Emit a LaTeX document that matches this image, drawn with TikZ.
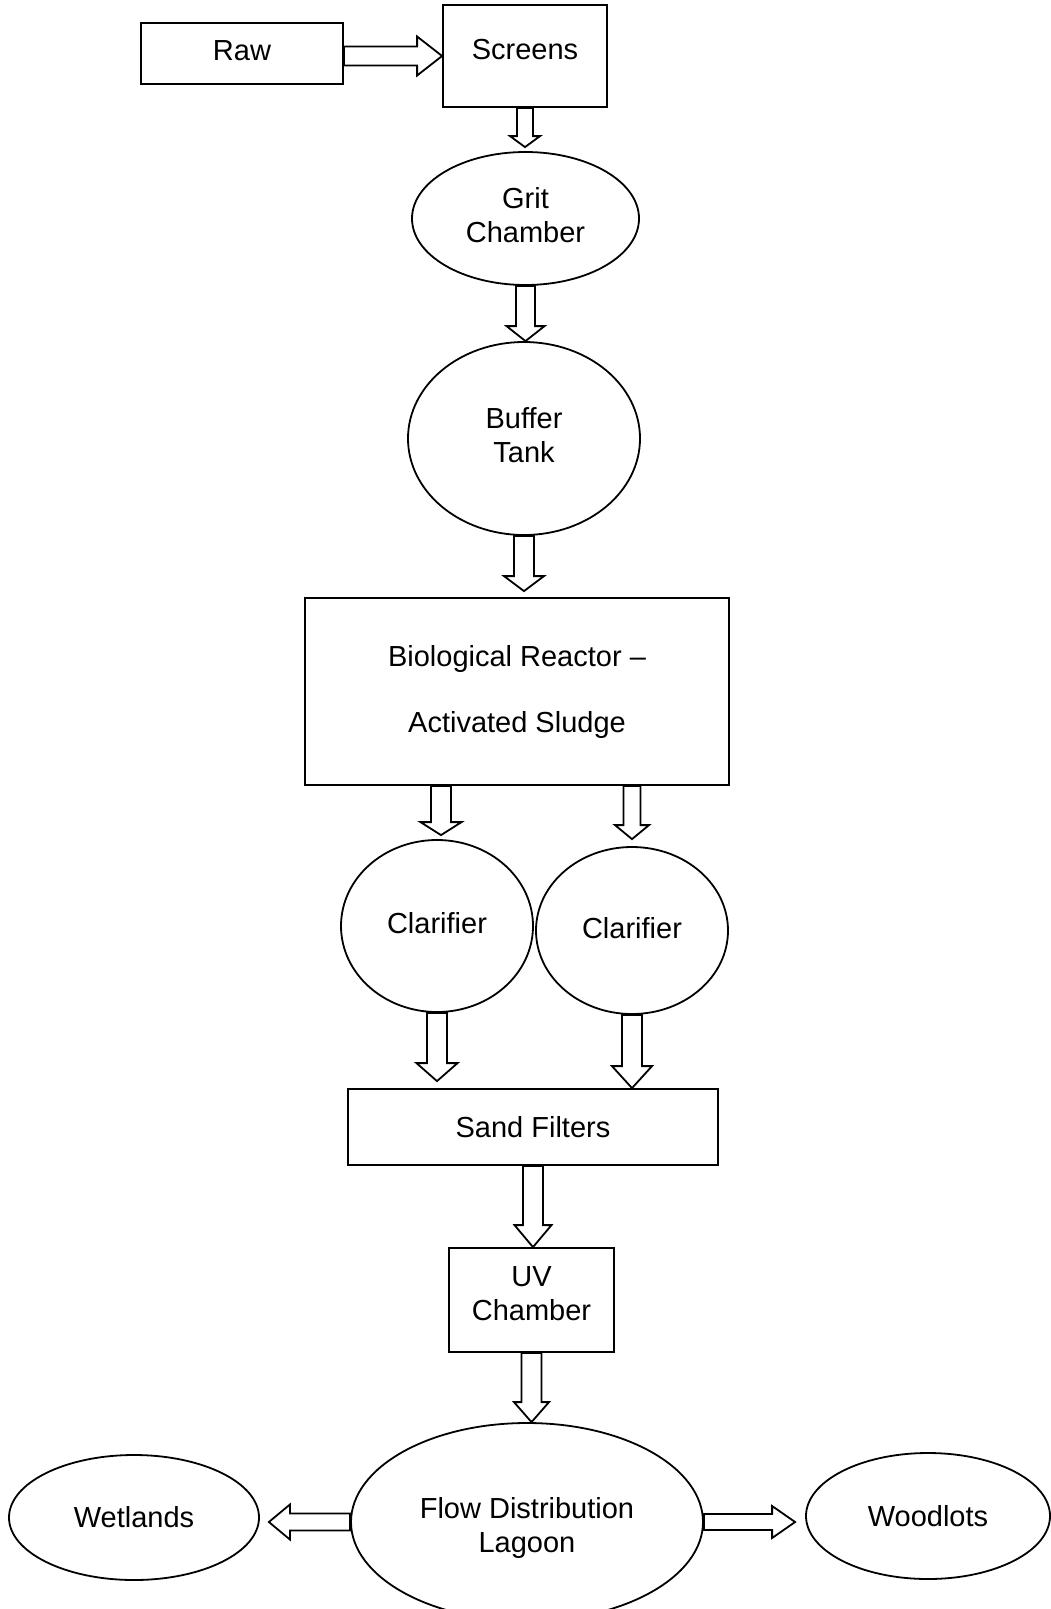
\documentclass[tikz,border=0pt]{standalone}
\usepackage{fontspec}
\setmainfont{Liberation Sans}
\usetikzlibrary{shapes.geometric, calc, positioning}
\newcommand{\flowfont}{\fontsize{29}{34}\selectfont}
% hollow block arrows: from, to, shaft half width, head half width, head length
\newcommand{\flowdown}[5]{\draw[flow] let \p1=(#1), \p2=(#2) in
  (\x1-#3pt,\y1) -- (\x1-#3pt,\y2+#5pt) -- (\x1-#4pt,\y2+#5pt) -- (\x1,\y2)
  -- (\x1+#4pt,\y2+#5pt) -- (\x1+#3pt,\y2+#5pt) -- (\x1+#3pt,\y1) -- cycle;}
\newcommand{\flowside}[5]{\draw[flow] let \p1=(#1), \p2=(#2), \n1={\x2>\x1 ? 1 : -1} in
  (\x1,\y1+#3pt) -- (\x2-\n1*#5pt,\y1+#3pt) -- (\x2-\n1*#5pt,\y1+#4pt) -- (\x2,\y1)
  -- (\x2-\n1*#5pt,\y1-#4pt) -- (\x2-\n1*#5pt,\y1-#3pt) -- (\x1,\y1-#3pt) -- cycle;}
\tikzset{
  stage/.style={draw, rectangle, inner sep=0pt, line width=1.8pt, font=\flowfont, align=center},
  tank/.style={draw, ellipse, inner sep=0pt, line width=1.8pt, font=\flowfont, align=center},
  flow/.style={draw, line width=1.8pt, line join=miter, fill=white}
}
\begin{document}
\begin{tikzpicture}[x=1pt, y=-1pt]
\useasboundingbox[fill=white] (0,0) rectangle (1051,1609);

\node[stage, minimum width=202pt, minimum height=61pt, text depth=5pt] (raw) at (242,53.5) {Raw};
\node[stage, minimum width=164pt, minimum height=102pt, text height=21pt, text depth=14pt] (screens) at (525,56) {Screens};
\node[tank, minimum width=227pt, minimum height=133pt, text depth=8pt] (grit) at (525.5,218.5) {Grit\\Chamber};
\node[tank, minimum width=232pt, minimum height=193pt, text depth=6pt] (buffer) at (524,438.5) {Buffer\\Tank};
\node[stage, minimum width=424pt, minimum height=187pt] (bio) at (517,691.5) {Biological Reactor --\\[32pt]Activated Sludge};
\node[tank, minimum width=192pt, minimum height=172pt, text depth=6pt] (clarL) at (437,926) {Clarifier};
\node[tank, minimum width=192pt, minimum height=167pt, text depth=6pt] (clarR) at (632,930.5) {Clarifier};
\node[stage, minimum width=370pt, minimum height=76pt] (sand) at (533,1127) {Sand Filters};
\node[stage, minimum width=165pt, minimum height=104pt, text depth=13pt] (uv) at (531.5,1300) {UV\\Chamber};
\node[tank, minimum width=352pt, minimum height=198pt, text height=61pt, text depth=0pt] (lagoon) at (527,1522) {Flow Distribution\\Lagoon};
\node[tank, minimum width=250pt, minimum height=125pt] (wet) at (134,1517.5) {Wetlands};
\node[tank, minimum width=244pt, minimum height=126pt] (wood) at (928,1516) {Woodlots};

\flowside{raw.east |- screens.west}{screens.west}{9.5}{19.5}{25}
\flowdown{screens.south}{$(grit.north)+(0,-4)$}{8}{15}{11}
\flowdown{grit.south}{buffer.north}{9.5}{19}{15}
\flowdown{buffer.south}{$(bio.north)+(0,-6)$}{10}{20}{15}
\flowdown{$(bio.south -| clarL.north)+(4,0)$}{$(clarL.north)+(0,-4)$}{10}{20.5}{13}
\flowdown{bio.south -| clarR.north}{$(clarR.north)+(0,-7)$}{8.5}{17}{14}
\flowdown{clarL.south}{$(clarL.south |- sand.north)+(0,-7)$}{10}{20.5}{18}
\flowdown{clarR.south}{clarR.south |- sand.north}{10}{20}{22}
\flowdown{sand.south}{uv.north}{10}{18.5}{22}
\flowdown{uv.south}{lagoon.north}{10}{17.5}{20}
\flowside{lagoon.west}{$(wet.east)+(9,0)$}{8.5}{17.5}{21}
\flowside{lagoon.east}{$(wood.west)+(-10,0)$}{8}{16}{23}
\end{tikzpicture}
\end{document}
